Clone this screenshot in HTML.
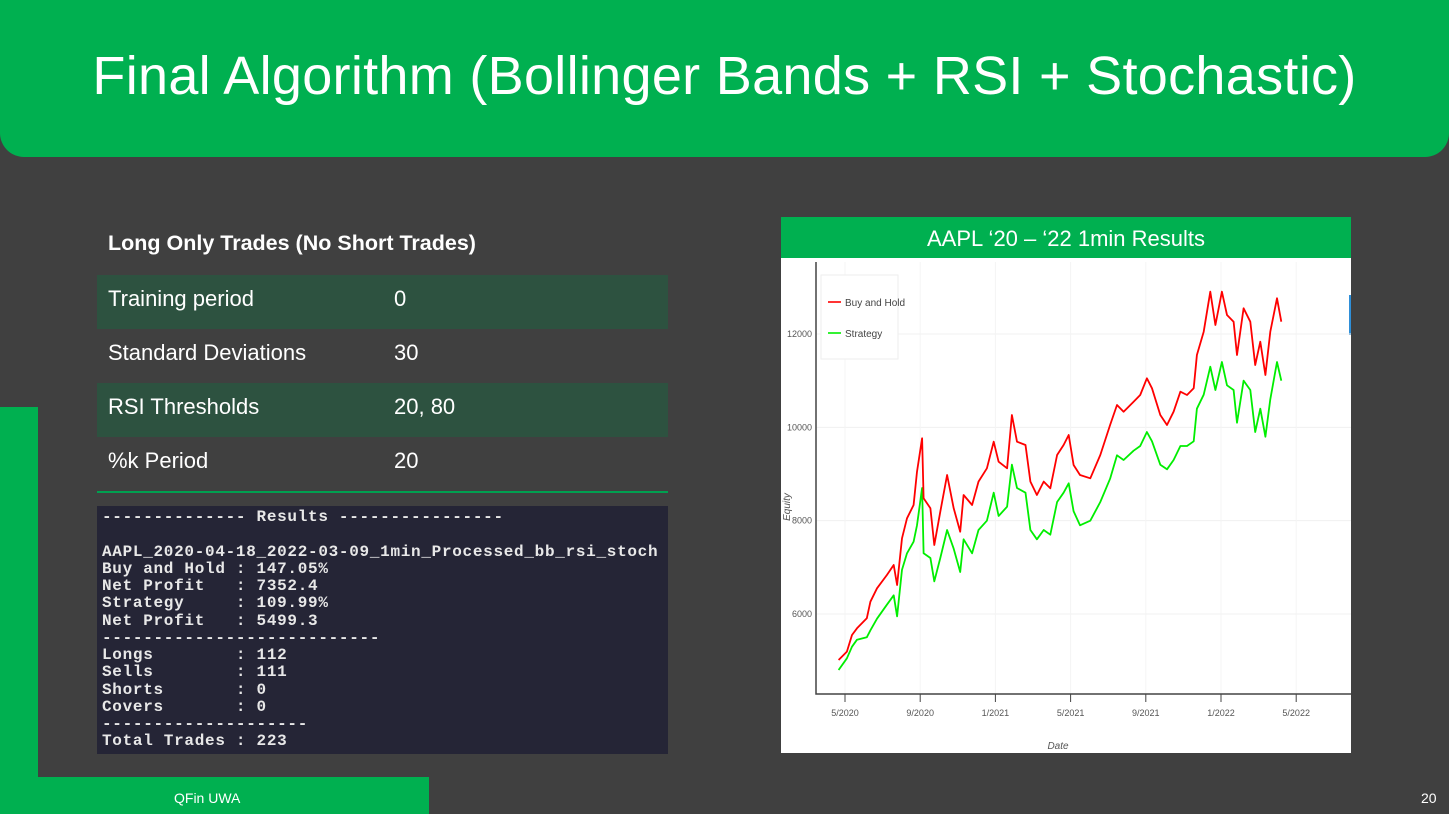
<!DOCTYPE html>
<html><head><meta charset="utf-8"><style>
body{margin:0;width:1449px;height:814px;background:#404040;position:relative;overflow:hidden;font-family:"Liberation Sans",sans-serif}
.abs{position:absolute}
.row{position:absolute;left:97px;width:571px;height:54px;color:#fff;font-size:22px}
.row span{position:absolute;top:11px}
</style></head><body>
<div class="abs" style="left:0;top:0;width:1449px;height:157px;background:#00b050;border-radius:0 0 24px 24px"></div>
<div class="abs" style="left:0;top:44px;width:1449px;text-align:center;color:#fff;font-size:54px;line-height:64px;letter-spacing:0.3px">Final Algorithm (Bollinger Bands + RSI + Stochastic)</div>
<div class="abs" style="left:0;top:407px;width:38px;height:407px;background:#00b050"></div>
<div class="abs" style="left:0;top:777px;width:429px;height:37px;background:#00b050"></div>
<div class="abs" style="left:174px;top:790px;color:#fff;font-size:14px">QFin UWA</div>
<div class="abs" style="left:1421px;top:790px;color:#fff;font-size:14px">20</div>

<div class="abs" style="left:108px;top:231px;color:#fff;font-size:21.5px;font-weight:bold">Long Only Trades (No Short Trades)</div>
<div class="row" style="top:275px;background:#2d5240"><span style="left:11px">Training period</span><span style="left:297px">0</span></div>
<div class="row" style="top:329px"><span style="left:11px">Standard Deviations</span><span style="left:297px">30</span></div>
<div class="row" style="top:383px;background:#2d5240"><span style="left:11px">RSI Thresholds</span><span style="left:297px">20, 80</span></div>
<div class="row" style="top:437px"><span style="left:11px">%k Period</span><span style="left:297px">20</span></div>
<div class="abs" style="left:97px;top:491px;width:571px;height:2px;background:#00a050"></div>

<pre class="abs" style="margin:0;left:97px;top:506px;width:566px;height:245px;padding:3px 0 0 5px;background:#252536;color:#e8e8e8;font-family:'Liberation Mono',monospace;font-size:16px;letter-spacing:0.7px;line-height:17.25px;font-weight:bold;overflow:hidden">-------------- Results ----------------

AAPL_2020-04-18_2022-03-09_1min_Processed_bb_rsi_stoch
Buy and Hold : 147.05%
Net Profit   : 7352.4
Strategy     : 109.99%
Net Profit   : 5499.3
---------------------------
Longs        : 112
Sells        : 111
Shorts       : 0
Covers       : 0
--------------------
Total Trades : 223</pre>

<div class="abs" style="left:781px;top:217px;width:570px;height:536px;background:#fff"></div>
<div class="abs" style="left:781px;top:217px;width:570px;height:41px;background:#00b050;color:#fff;font-size:22px;text-align:center;line-height:43px">AAPL ‘20 – ‘22 1min Results</div>
<div class="abs" style="left:1349px;top:295px;width:2px;height:40px;background:#2f8fd8"></div>
<svg class="abs" style="left:0;top:0" width="1449" height="814" id="chart"></svg>
<script>
const monthTicks=[0,4,8,12,16,20,24];
const tickLabels=["5/2020","9/2020","1/2021","5/2021","9/2021","1/2022","5/2022"];
const yTicks=[6000,8000,10000,12000];
const months=[-0.34,0.1,0.37,0.64,1.16,1.35,1.7,2.23,2.59,2.77,3.03,3.3,3.65,3.83,4.1,4.18,4.54,4.75,5.07,5.43,5.78,6.13,6.31,6.76,7.1,7.55,7.91,8.17,8.62,8.88,9.15,9.6,9.86,10.21,10.57,10.92,11.28,11.63,11.9,12.16,12.5,13.05,13.58,14.1,14.47,14.82,15.35,15.7,16.06,16.33,16.77,17.13,17.48,17.84,18.19,18.55,18.72,19.08,19.43,19.7,20.05,20.32,20.67,20.85,21.2,21.56,21.82,22.09,22.36,22.62,22.98,23.21];
const buyHold=[5014,5193,5550,5693,5907,6264,6550,6836,7050,6621,7621,8050,8336,9050,9764,8479,8264,7479,8193,8979,8264,7764,8550,8336,8836,9121,9693,9264,9121,10264,9693,9621,8836,8550,8836,8693,9407,9621,9836,9193,8979,8907,9407,10050,10479,10336,10550,10693,11050,10836,10264,10050,10336,10764,10693,10836,11550,12050,12907,12193,12907,12407,12264,11550,12550,12264,11336,11836,11121,12050,12764,12264];
const strategy=[4800,5050,5300,5450,5500,5650,5900,6200,6400,5950,6950,7300,7550,7900,8700,7300,7200,6700,7200,7800,7400,6900,7600,7300,7800,8000,8600,8100,8300,9200,8700,8600,7800,7600,7800,7700,8400,8600,8800,8200,7900,8000,8400,8900,9400,9300,9500,9600,9900,9700,9200,9100,9300,9600,9600,9700,10400,10700,11300,10800,11400,10900,10800,10100,11000,10800,9900,10400,9800,10600,11400,11000];
const NS='http://www.w3.org/2000/svg';
const svg=document.getElementById('chart');
const X=m=>845+m*18.8;
const Y=v=>334+(12000-v)*(93.33/2000);
function el(t,a){const e=document.createElementNS(NS,t);for(const k in a)e.setAttribute(k,a[k]);svg.appendChild(e);return e;}
yTicks.forEach(v=>{
  const g=el('line',{x1:816,x2:1351,y1:Y(v),y2:Y(v),stroke:'#f0f0f0'});
  
  
  const t=el('text',{x:812,y:Y(v)+3,'text-anchor':'end','font-size':'9','fill':'#555','font-family':'Liberation Sans Narrow, Liberation Sans, sans-serif'});
  t.textContent=v;
  
  
});
monthTicks.forEach((m,i)=>{
  const g=el('line',{x1:X(m),x2:X(m),y1:262,y2:694,stroke:'#f4f4f4'});
  
  
  const tk=el('line',{x1:X(m),x2:X(m),y1:694,y2:702,stroke:'#444'});
  
  
  const t=el('text',{x:X(m),y:716,'text-anchor':'middle','font-size':'9','fill':'#555','font-family':'Liberation Sans Narrow, Liberation Sans, sans-serif'});
  t.textContent=tickLabels[i];
  
  
});
const ax=el('path',{d:'M816 262 V694 H1351',fill:'none',stroke:'#444','stroke-width':'1.5'});


function series(vals,color,name){
  const p=el('polyline',{points:vals.map((v,i)=>X(months[i]).toFixed(1)+','+Y(v).toFixed(1)).join(' '),fill:'none',stroke:color,'stroke-width':'1.8','stroke-linejoin':'round'});
  
  
}
series(strategy,'#00ee00','strategy-line');
series(buyHold,'#ff0000','buy-and-hold-line');
const lb=el('rect',{x:821,y:275,width:77,height:84,fill:'#fff',stroke:'#eee'});


[['Buy and Hold','#ff0000',302],['Strategy','#00ee00',333]].forEach(([n,c,y])=>{
  const l=el('line',{x1:828,x2:841,y1:y,y2:y,stroke:c,'stroke-width':'1.6'});
  
  
  const t=el('text',{x:845,y:y+4,'font-size':'10','fill':'#444','font-family':'Liberation Sans Narrow, Liberation Sans, sans-serif'});
  t.textContent=n;
  
  
});
const yl=el('text',{x:0,y:0,transform:'translate(790,507) rotate(-90)','text-anchor':'middle','font-size':'10','font-style':'italic','fill':'#555'});
yl.textContent='Equity';


const xl=el('text',{x:1058,y:749,'text-anchor':'middle','font-size':'10','font-style':'italic','fill':'#555'});
xl.textContent='Date';


</script>
</body></html>
